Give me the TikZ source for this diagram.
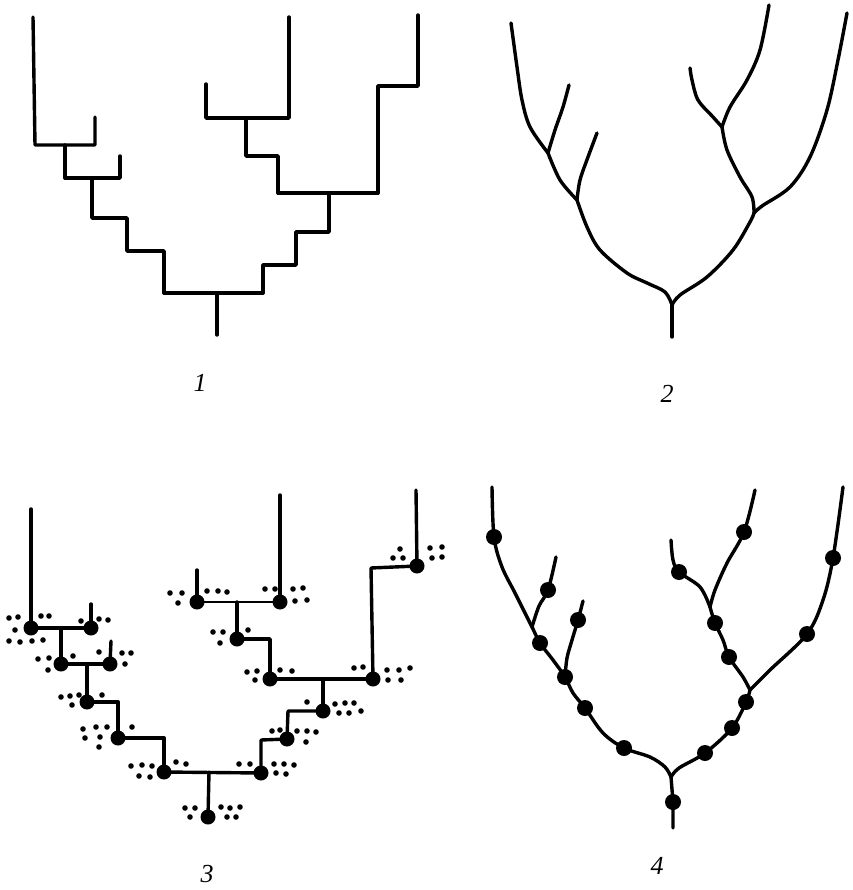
\documentclass[tikz,border=0pt]{standalone}
\usepackage{fontspec}
\setmainfont{Liberation Serif}
\begin{document}
\begin{tikzpicture}[x=1pt,y=-1pt,line cap=round,line join=round,
  branch/.style={line width=3.4pt},
  knot/.style={circle,fill,inner sep=0pt,minimum size=15pt},
  bud/.style={circle,fill,inner sep=0pt,minimum size=16pt},
  tag/.style={inner sep=0pt,font=\fontsize{26}{26}\selectfont\itshape},
  curvy/.style={branch,smooth,tension=0.55}]
\useasboundingbox (0,0) rectangle (852,890);

% ---------- 1: stepped dendrogram ----------
\coordinate (p1root) at (217,335);
\coordinate (p1base) at (217,293);
\coordinate (p1l)    at (164,293);
\coordinate (p1r)    at (263,293);
\coordinate (p1ra)   at (329,193);
\coordinate (p1rb)   at (278,193);
\coordinate (p1rc)   at (378,193);
\coordinate (p1ab)   at (246,118);
\coordinate (p1la)   at (92,178);
\coordinate (p1lb)   at (65,145);
\draw[branch] (p1root) -- (p1base);
\draw[branch] (p1l) -- (p1r);
\draw[branch] (p1l) -- (164,251) -- (127,251) -- (127,218) -- (92,218) -- (p1la);
\draw[branch] (65,178) -- (120,178) -- (120,156);
\draw[branch] (p1lb) -- (65,178);
\draw[branch] (33,17) -- (35,145) -- (95,145) -- (95,117);
\draw[branch] (p1r) -- (263,265) -- (296,265) -- (296,232) -- (329,232) -- (p1ra);
\draw[branch] (p1rb) -- (p1rc);
\draw[branch] (p1rb) -- (278,156) -- (246,156) -- (p1ab);
\draw[branch] (206,84) -- (206,118) -- (289,118) -- (289,17);
\draw[branch] (p1rc) -- (378,86) -- (418,86) -- (418,15);

% ---------- 2: branching curves ----------
\coordinate (q0) at (672,305);
\coordinate (qL) at (577,200);
\coordinate (qLL) at (548,153);
\coordinate (qR) at (754,213);
\coordinate (qRM) at (722,127);
\draw[branch] (672,337) -- (q0);
\draw[curvy] plot coordinates {(q0) (665,292) (647,283) (627,273) (600,250) (587,227) (qL)};
\draw[curvy] plot coordinates {(qL) (580,180) (588,157) (597,133)};
\draw[curvy] plot coordinates {(qL) (560,180) (qLL)};
\draw[curvy] plot coordinates {(qLL) (555,130) (563,107) (569,85)};
\draw[curvy] plot coordinates {(qLL) (530,127) (522,100) (517,67) (511,23)};
\draw[curvy] plot coordinates {(q0) (680,295) (707,277) (733,250) (750,222) (qR)};
\draw[curvy] plot coordinates {(qR) (762,206) (790,187) (810,157) (827,110) (838,60) (847,13)};
\draw[curvy] plot coordinates {(qR) (752,197) (740,177) (727,150) (qRM)};
\draw[curvy] plot coordinates {(qRM) (713,117) (698,100) (692,80) (690,68)};
\draw[curvy] plot coordinates {(qRM) (730,107) (747,80) (760,50) (769,5)};

% ---------- 3: stepped dendrogram with marked nodes ----------
\node[knot] (r0) at (208,817) {};
\node[knot] (r1) at (164,772) {};
\node[knot] (r2) at (261,773) {};
\node[knot] (r3) at (118,738) {};
\node[knot] (r4) at (87,702) {};
\node[knot] (r5) at (61,664) {};
\node[knot] (r6) at (110,664) {};
\node[knot] (r7) at (31,628) {};
\node[knot] (r8) at (91,628) {};
\node[knot] (r9) at (287,739) {};
\node[knot] (r10) at (323,711) {};
\node[knot] (r11) at (270,679) {};
\node[knot] (r12) at (373,679) {};
\node[knot] (r13) at (237,639) {};
\node[knot] (r14) at (197,602) {};
\node[knot] (r15) at (280,602) {};
\node[knot] (r16) at (417,566) {};
\coordinate (s0) at (209,772);
\coordinate (s1) at (87,664);
\coordinate (s2) at (61,628);
\coordinate (s3) at (323,679);
\coordinate (s4) at (237,602);
\draw[branch] (r0.center) -- (s0);
\draw[branch] (r1.center) -- (r2.center);
\draw[branch] (r1.center) -- (164,738) -- (r3.center);
\draw[branch] (r3.center) -- (118,702) -- (r4.center);
\draw[branch] (r4.center) -- (s1);
\draw[branch] (r5.center) -- (r6.center);
\draw[branch] (r6.center) -- (111,641);
\draw[branch] (r5.center) -- (s2);
\draw[branch] (r7.center) -- (r8.center);
\draw[branch] (r7.center) -- (31,509);
\draw[branch] (r8.center) -- (91,604);
\draw[branch] (r2.center) -- (261,740) -- (r9.center);
\draw[branch] (r9.center) -- (288,711) -- (r10.center);
\draw[branch] (r10.center) -- (s3);
\draw[branch] (r11.center) -- (r12.center);
\draw[branch] (r11.center) -- (270,639) -- (r13.center);
\draw[branch] (r13.center) -- (s4);
\draw[line width=2.6pt] (r14.center) -- (r15.center);
\draw[branch] (r14.center) -- (197,570);
\draw[branch] (r15.center) -- (280,495);
\draw[branch] (r12.center) -- (371,568) -- (r16.center);
\draw[branch] (r16.center) -- (416,490);
% scattered specks around the nodes
\foreach \p in {(9,618),(18,617),(41,616),(49,616),(15,630),(9,641),(20,642),(32,641),(43,640),
  (81,621),(99,619),(108,620),
  (38,659),(49,658),(73,656),(48,670),
  (99,652),(122,653),(131,653),(125,664),
  (61,697),(70,696),(79,695),(102,695),(72,705),
  (83,729),(96,727),(107,727),(132,727),(85,738),(100,737),(99,747),
  (131,766),(142,765),(152,766),(176,762),(186,764),(139,776),(150,777),
  (170,593),(182,593),(207,591),(218,591),(227,592),(178,603),
  (265,589),(275,589),(293,589),(303,588),(295,601),(307,600),
  (213,632),(223,632),(248,630),(220,643),
  (247,672),(257,671),(280,670),(292,671),(255,680),
  (354,668),(363,667),(387,670),(399,670),(410,668),(388,680),(401,680),
  (400,549),(393,558),(403,558),(430,548),(442,547),(432,558),(442,557),
  (307,702),(335,704),(345,703),(354,703),(339,713),(349,713),(361,711),
  (272,731),(280,730),(297,731),(307,731),(316,732),(306,742),
  (239,764),(250,764),(274,764),(284,764),(294,765),(276,773),(286,774),
  (185,808),(195,808),(221,807),(230,808),(240,807),(190,817),(227,817),(236,817)}
  \fill \p circle (2.8pt);

% ---------- 4: branching curves with marked points ----------
\coordinate (t0) at (671,777);
\node[bud] (u0) at (673,802) {};
\node[bud] (u1) at (624,748) {};
\node[bud] (u2) at (585,708) {};
\node[bud] (u3) at (565,677) {};
\node[bud] (u4) at (540,643) {};
\node[bud] (u5) at (578,620) {};
\node[bud] (u6) at (548,590) {};
\node[bud] (u7) at (494,537) {};
\node[bud] (v1) at (705,753) {};
\node[bud] (v2) at (732,728) {};
\node[bud] (v3) at (746,702) {};
\node[bud] (v4) at (807,634) {};
\node[bud] (v5) at (833,558) {};
\node[bud] (v6) at (729,657) {};
\node[bud] (v7) at (715,623) {};
\node[bud] (v8) at (679,572) {};
\node[bud] (v9) at (744,532) {};
\coordinate (tL) at (532,627);
\coordinate (tR) at (750,690);
\coordinate (tM) at (710,607);
\draw[branch] (673,828) -- (u0.center) -- (t0);
\draw[curvy] plot coordinates {(t0) (665,767) (650,757) (u1) (603,733) (u2) (573,693) (u3) (553,660) (u4) (tL) (515,593) (502,567) (u7) (492,487)};
\draw[curvy] plot coordinates {(u3) (567,658) (572,640) (u5) (583,601)};
\draw[curvy] plot coordinates {(tL) (539,606) (u6) (556,557)};
\draw[curvy] plot coordinates {(t0) (679,768) (v1) (v2) (v3) (tR)};
\draw[curvy] plot coordinates {(tR) (770,670) (v4) (823,600) (v5) (843,487)};
\draw[curvy] plot coordinates {(tR) (743,677) (v6) (723,640) (v7) (tM)};
\draw[curvy] plot coordinates {(tM) (700,587) (v8) (673,560) (671,540)};
\draw[curvy] plot coordinates {(tM) (715,590) (727,563) (v9) (755,490)};

% ---------- captions ----------
\node[tag] (c1) at (200,383) {1};
\node[tag] (c2) at (667,394) {2};
\node[tag] (c3) at (207,874) {3};
\node[tag] (c4) at (657,866) {4};
\end{tikzpicture}
\end{document}
